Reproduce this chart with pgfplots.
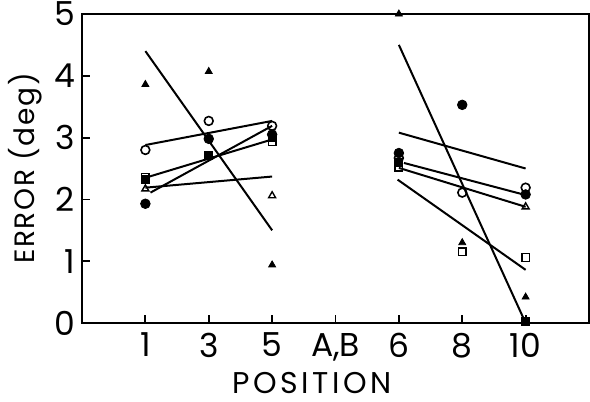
\documentclass[border=0pt]{standalone}
\usepackage{fontspec}
\setmainfont{Poppins}
\usepackage{pgfplots}
\pgfplotsset{compat=1.18}
\begin{document}
\begin{tikzpicture}
\begin{axis}[
  scale only axis, width=253.5pt, height=154.5pt,
  xmin=-1, xmax=7, ymin=0, ymax=5,
  xtick={0,1,2,3,4,5,6}, xticklabels={1,3,5,{A,B},6,8,10},
  ytick={0,1,2,3,4,5},
  tick align=inside, tick pos=left,
  major tick length=4pt,
  tick style={black, line width=0.9pt},
  axis line style={line width=1pt},
  ticklabel style={font=\fontsize{16.5}{19}\selectfont},
  xticklabel style={yshift=-1.5pt},
  /pgf/number format/assume math mode=true,
  ylabel={ERROR (deg)},
  xlabel={POSITION},
  ylabel style={at={(axis description cs:-0.112,0.5)}, anchor=center, font=\fontsize{14}{16}\selectfont\addfontfeatures{LetterSpace=6}},
  xlabel style={at={(axis description cs:0.454,-0.194)}, anchor=center, font=\fontsize{15}{18}\selectfont\addfontfeatures{LetterSpace=12}},
  clip=false,
]
% regression lines, left group
\addplot[black, line width=1pt] coordinates {(0,4.40) (2,1.50)};
\addplot[black, line width=1pt] coordinates {(0,2.88) (2,3.27)};
\addplot[black, line width=1pt] coordinates {(0,2.35) (2,2.97)};
\addplot[black, line width=1pt] coordinates {(0.08,2.11) (2,3.19)};
\addplot[black, line width=1pt] coordinates {(0,2.19) (2,2.37)};
% regression lines, right group
\addplot[black, line width=1pt] coordinates {(4,4.50) (6,0.0)};
\addplot[black, line width=1pt] coordinates {(4,3.08) (6,2.50)};
\addplot[black, line width=1pt] coordinates {(4.08,2.59) (6,2.07)};
\addplot[black, line width=1pt] coordinates {(4,2.51) (6,1.88)};
\addplot[black, line width=1pt] coordinates {(3.98,2.32) (6,0.86)};
% filled triangles
\addplot[only marks, mark=triangle*, mark size=2pt, black] coordinates {(0,3.86) (1,4.07) (2,0.94) (4,5.0) (5,1.30) (6,0.42)};
% open triangles
\addplot[only marks, mark=triangle, mark size=2pt, black, mark options={fill=white, line width=0.7pt}] coordinates {(0,2.17) (2,2.06) (6,1.88)};
% open circles
\addplot[only marks, mark=o, mark size=2.2pt, black, mark options={fill=white, line width=0.8pt}] coordinates {(0,2.80) (1,3.27) (2,3.19) (4,2.67) (5,2.11) (6,2.19)};
% filled circles
\addplot[only marks, mark=*, mark size=2.4pt, black] coordinates {(0,1.93) (1,2.98) (2,3.05) (4,2.75) (5,3.53) (6,2.08)};
% filled squares
\addplot[only marks, mark=square*, mark size=2pt, black] coordinates {(0,2.33) (1,2.72) (2,3.00) (4,2.60) (6,0.02)};
% open squares
\addplot[only marks, mark=square, mark size=1.9pt, black, mark options={fill=white, line width=0.7pt}] coordinates {(0,2.36) (2,2.93) (4,2.52) (5,1.15) (6,1.06)};
\end{axis}
\pgfresetboundingbox
\path (current axis.south west) ++(-41pt,-39pt) coordinate (bbA);
\path (current axis.north east) ++(0.5pt,7pt) coordinate (bbB);
\path (bbA) rectangle (bbB);
\end{tikzpicture}
\end{document}
